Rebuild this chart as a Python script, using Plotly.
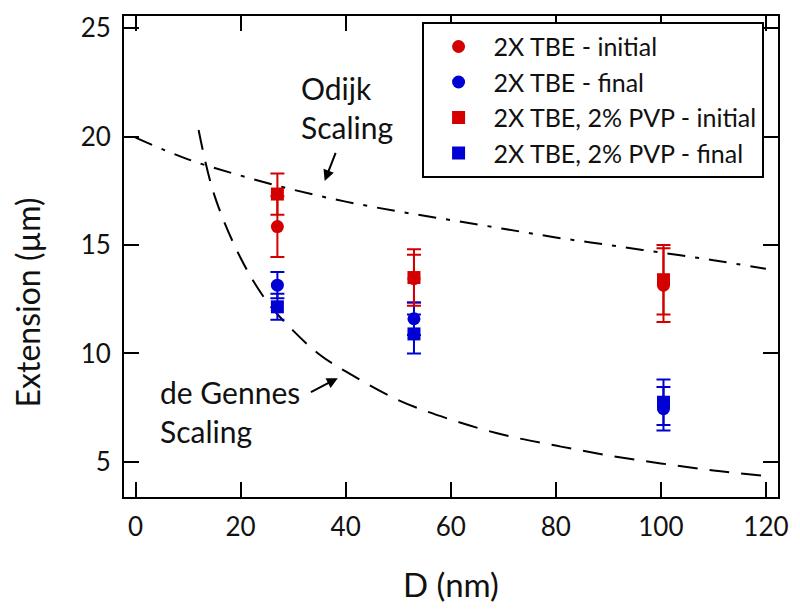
import plotly.graph_objects as go

# ---- data ----
D_nm = [27, 53, 100.5]

tbe_initial = [15.85, 13.45, 13.15]
tbe_initial_err = [1.4, 1.1, 1.7]
tbe_final = [13.15, 11.6, 7.45]
tbe_final_err = [0.6, 0.75, 1.0]

pvp_initial = [17.35, 13.5, 13.4]
pvp_initial_err = [0.95, 1.3, 1.6]
pvp_final = [12.15, 10.9, 7.75]
pvp_final_err = [0.6, 0.9, 1.05]

odijk_x = [0, 10, 20, 30, 40, 50, 60, 70, 80, 90, 100, 110, 120]
odijk_y = [19.95, 18.95, 18.2, 17.55, 17.0, 16.55, 16.15, 15.75, 15.35, 15.0, 14.65, 14.3, 13.9]

degennes_x = [12, 15, 20, 25, 30, 35, 40, 50, 60, 70, 80, 90, 100, 110, 120]
degennes_y = [20.3, 17.3, 14.4, 12.4, 11.05, 9.95, 9.17, 7.85, 6.95, 6.25, 5.75, 5.3, 4.93, 4.6, 4.35]

x_ticks = [0, 20, 40, 60, 80, 100, 120]
y_ticks = [5, 10, 15, 20, 25]

RED = "#d40000"
BLUE = "#0000d4"
FONT = "Lato"
TXT = "#111"

fig = go.Figure()

# scaling curves
fig.add_trace(go.Scatter(x=odijk_x, y=odijk_y, mode="lines", showlegend=False,
                         line=dict(color="black", width=2, dash="18px,10px,4px,10px"),
                         line_shape="spline", hoverinfo="skip"))
fig.add_trace(go.Scatter(x=degennes_x, y=degennes_y, mode="lines", showlegend=False,
                         line=dict(color="black", width=2, dash="20px,12px"),
                         line_shape="spline", hoverinfo="skip"))

def add_series(y, err, color, symbol, name, group):
    fig.add_trace(go.Scatter(
        x=D_nm, y=y, mode="markers", name=name, legendgroup=group,
        marker=dict(color=color, symbol=symbol, size=13, line=dict(width=0)),
        error_y=dict(type="data", array=err, visible=True, color=color,
                     thickness=2, width=7),
    ))

add_series(tbe_initial, tbe_initial_err, RED, "circle", "2X TBE - initial", "a")
add_series(tbe_final, tbe_final_err, BLUE, "circle", "2X TBE - final", "b")
add_series(pvp_initial, pvp_initial_err, RED, "square", "2X TBE, 2% PVP - initial", "c")
add_series(pvp_final, pvp_final_err, BLUE, "square", "2X TBE, 2% PVP - final", "d")

axis_common = dict(
    showline=True, linecolor="black", linewidth=2, mirror="ticks",
    ticks="inside", ticklen=15, tickwidth=2, tickcolor="black",
    showgrid=False, zeroline=False,
    tickfont=dict(family=FONT, size=26, color=TXT),
)

fig.update_xaxes(range=[-2.2, 122.3], tickvals=x_ticks, ticklabelstandoff=6,
                 title=dict(text="D (nm)", font=dict(family=FONT, size=33, color=TXT), standoff=33),
                 **axis_common)
fig.update_yaxes(range=[3.38, 25.56], tickvals=y_ticks, ticklabelstandoff=6,
                 **axis_common)

# y-axis title (placed below the plot centre, as in the reference)
fig.add_annotation(x=-0.148, y=0.405, xref="paper", yref="paper", text="Extension (µm)",
                   textangle=-90, showarrow=False, xanchor="center", yanchor="middle",
                   font=dict(family=FONT, size=32, color=TXT))

# annotations
fig.add_annotation(x=31.2, y=21.33, xref="x", yref="y", text="Odijk<br>Scaling",
                   showarrow=False, xanchor="left", yanchor="middle", align="left",
                   font=dict(family=FONT, size=30, color=TXT))
fig.add_annotation(x=36, y=17.95, ax=38.2, ay=19.32, xref="x", yref="y", axref="x", ayref="y",
                   text="", showarrow=True, arrowhead=2, arrowsize=1.1, arrowwidth=2, arrowcolor="black")
fig.add_annotation(x=4.2, y=7.3, xref="x", yref="y", text="de Gennes<br>Scaling",
                   showarrow=False, xanchor="left", yanchor="middle", align="left",
                   font=dict(family=FONT, size=30, color=TXT))
fig.add_annotation(x=38.5, y=8.86, ax=33.1, ay=8.18, xref="x", yref="y", axref="x", ayref="y",
                   text="", showarrow=True, arrowhead=2, arrowsize=1.1, arrowwidth=2, arrowcolor="black")

# page body adds an 8px offset, margins compensate for it
fig.update_layout(
    width=800, height=616,
    margin=dict(l=116, r=30, t=3, b=127),
    paper_bgcolor="white", plot_bgcolor="white",
    legend=dict(x=0.455, y=0.988, xanchor="left", yanchor="top",
                bordercolor="black", borderwidth=2, bgcolor="white",
                font=dict(family=FONT, size=25, color=TXT),
                traceorder="grouped", tracegroupgap=0, itemwidth=60),
)

fig.write_html("out.html")
